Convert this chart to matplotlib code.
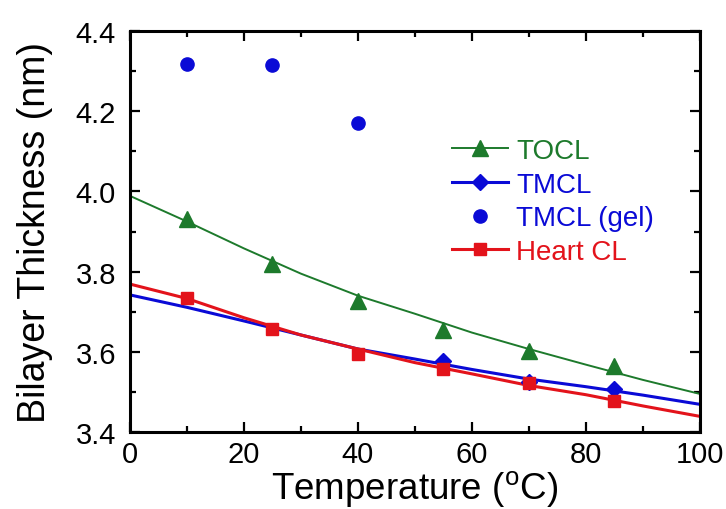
import numpy as np
import matplotlib
matplotlib.use('Agg')
import matplotlib.pyplot as plt
from matplotlib.lines import Line2D

plt.rcParams['font.family'] = ['Liberation Sans', 'DejaVu Sans']
plt.rcParams['mathtext.default'] = 'regular'

# measured points
temp = [10, 25, 40, 55, 70, 85]
tocl = [3.932, 3.818, 3.726, 3.654, 3.603, 3.564]
heart = [3.735, 3.658, 3.595, 3.557, 3.521, 3.477]

temp_tmcl = [55, 70, 85]
tmcl = [3.577, 3.525, 3.506]

temp_gel = [10, 25, 40]
tmcl_gel = [4.318, 4.316, 4.171]

# fit curves
fit_t = [0, 10, 20, 30, 40, 50, 60, 70, 80, 90, 100]
tocl_fit = [3.989, 3.925, 3.858, 3.795, 3.740, 3.695, 3.648, 3.607, 3.568, 3.530, 3.495]
tmcl_fit = [3.742, 3.711, 3.677, 3.642, 3.607, 3.582, 3.556, 3.532, 3.513, 3.492, 3.469]
heart_fit = [3.769, 3.733, 3.685, 3.642, 3.607, 3.573, 3.545, 3.516, 3.493, 3.465, 3.439]

c_green = '#1d7a2c'
c_blue = '#0a0ad6'
c_red = '#e3131b'

fig = plt.figure(figsize=(7.26, 5.10), dpi=100)
ax = fig.add_axes([0.179, 0.151, 0.785, 0.786])

ax.plot(fit_t, tocl_fit, '-', color=c_green, lw=1.4)
ax.plot(fit_t, tmcl_fit, '-', color=c_blue, lw=2.2)
ax.plot(fit_t, heart_fit, '-', color=c_red, lw=2.2)

ax.plot(temp, tocl, '^', color=c_green, ms=11, ls='none')
ax.plot(temp_tmcl, tmcl, 'D', color=c_blue, ms=8, ls='none')
ax.plot(temp_gel, tmcl_gel, 'o', color=c_blue, ms=9.5, ls='none')
ax.plot(temp, heart, 's', color=c_red, ms=8.5, ls='none')

ax.set_xlim(0, 100)
ax.set_ylim(3.4, 4.4)
ax.set_xticks(np.arange(0, 101, 20))
ax.set_xticks(np.arange(0, 101, 10), minor=True)
ax.set_yticks(np.arange(3.4, 4.41, 0.2))
ax.set_yticks(np.arange(3.4, 4.41, 0.1), minor=True)
ax.set_yticklabels(['%.1f' % v for v in np.arange(3.4, 4.41, 0.2)])

ax.tick_params(which='both', direction='in', top=True, right=True, width=1.6, labelsize=21)
ax.tick_params(which='major', length=7.5, pad=10)
ax.tick_params(axis='x', which='major', pad=6)
ax.tick_params(which='minor', length=4.5)
for s in ax.spines.values():
    s.set_linewidth(2.2)

ax.set_xlabel('Temperature ($^{o}$C)', fontsize=26.5, labelpad=0)
ax.set_ylabel('Bilayer Thickness (nm)', fontsize=27, labelpad=16)

handles = [
    Line2D([], [], color=c_green, lw=1.4, marker='^', ms=11),
    Line2D([], [], color=c_blue, lw=2.2, marker='D', ms=8),
    Line2D([], [], color=c_blue, ls='none', marker='o', ms=9.5),
    Line2D([], [], color=c_red, lw=2.2, marker='s', ms=8.5),
]
labels = ['TOCL', 'TMCL', 'TMCL (gel)', 'Heart CL']
ax.legend(handles, labels, loc='center left', bbox_to_anchor=(0.546, 0.575),
          frameon=False, fontsize=20, handlelength=2.0, handletextpad=0.3,
          labelspacing=0.28, borderaxespad=0,
          labelcolor=[c_green, c_blue, c_blue, c_red])

fig.savefig('out.png', dpi=100)
